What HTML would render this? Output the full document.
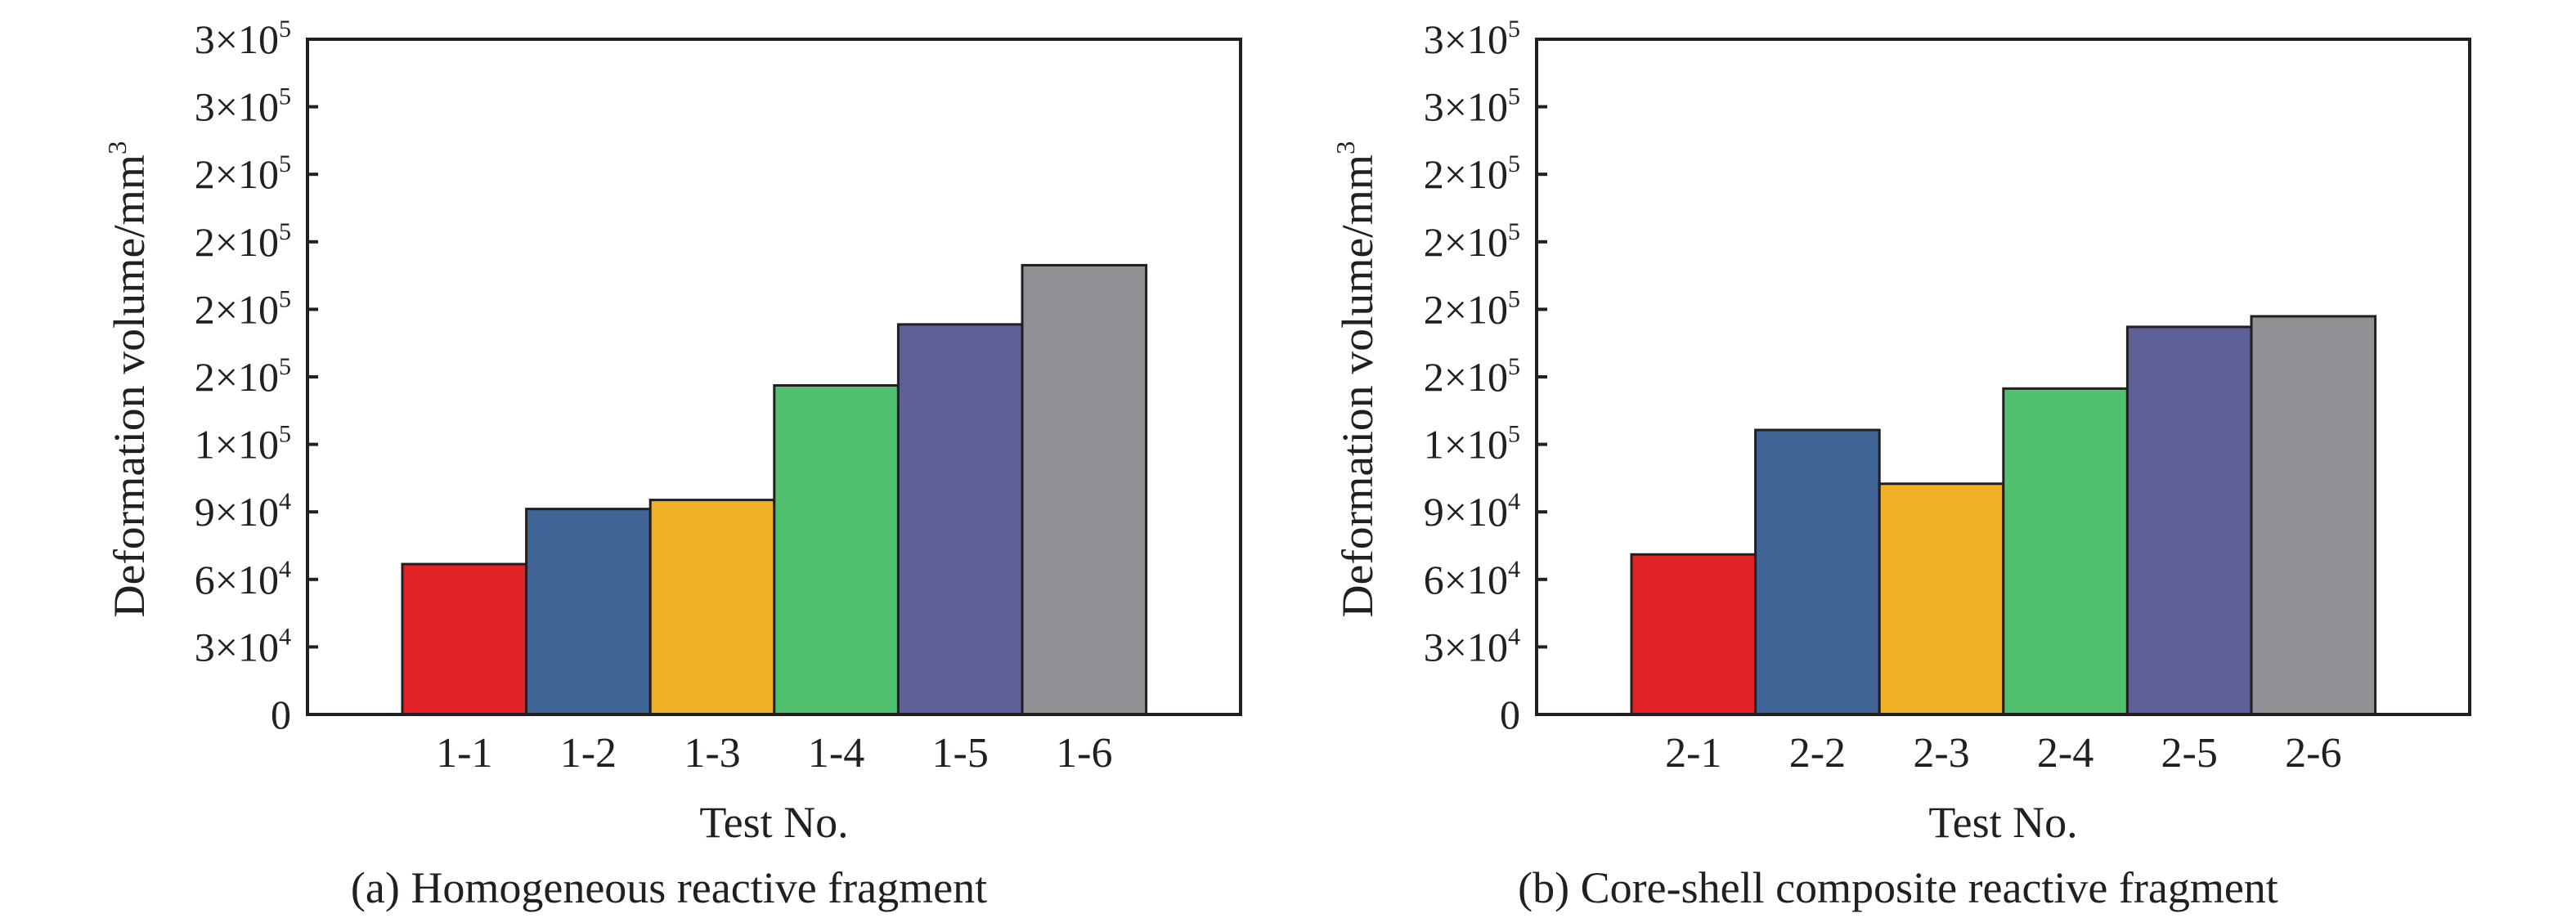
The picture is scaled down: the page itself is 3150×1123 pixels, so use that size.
<!DOCTYPE html>
<html><head><meta charset="utf-8"><style>
html,body{margin:0;padding:0;background:#fff;}
svg{display:block;font-family:"Liberation Serif","Times New Roman",serif;}
</style></head><body>
<svg id="fig" width="3150" height="1123" viewBox="0 0 3150 1123" xmlns="http://www.w3.org/2000/svg"></svg>
<script>
const categoriesA = ["1-1","1-2","1-3","1-4","1-5","1-6"];
const valuesA = [66800, 91300, 95300, 146200, 173300, 199600];
const categoriesB = ["2-1","2-2","2-3","2-4","2-5","2-6"];
const valuesB = [71100, 126400, 102500, 144800, 172200, 176900];
const tickValues = [0,30000,60000,90000,120000,150000,180000,210000,240000,270000,300000];
const tickMantissa = ["0","3","6","9","1","2","2","2","2","3","3"];
const tickExponent = ["","4","4","4","5","5","5","5","5","5","5"];
const barColors = ["#e32227","#406496","#f0b027","#51c16f","#5e6098","#909194"];

const NS="http://www.w3.org/2000/svg";
const svg=document.getElementById('fig');
function mk(tag,attrs,parent){const e=document.createElementNS(NS,tag);for(const k in attrs)e.setAttribute(k,attrs[k]);(parent||svg).appendChild(e);return e;}

function panel(px, pname, cats, vals, caption, titleX, captionX){
  const g=mk('g',{});
  
  
  const L=px, R=px+1141, T=48, B=874, yMax=300000;
  const step=151.6, off=116;
  const y=v=>B-(v/yMax)*(B-T);
  const xc=i=>L+off+(i+0.5)*step;
  cats.forEach((c,i)=>{
    const r=mk('rect',{x:xc(i)-step/2,y:y(vals[i]),width:step,height:B-y(vals[i]),fill:barColors[i],stroke:"#231f20","stroke-width":3},g);
    
    
    const t=mk('text',{x:xc(i),y:938,"font-size":52,"text-anchor":"middle",fill:"#231f20"},g);
    t.textContent=c;
    
    
  });
  const f=mk('rect',{x:L,y:T,width:R-L,height:B-T,fill:"none",stroke:"#231f20","stroke-width":4},g);
  
  
  tickValues.forEach((v,i)=>{
    const tk=mk('line',{x1:L,x2:L+13,y1:y(v),y2:y(v),stroke:"#231f20","stroke-width":4},g);
    
    
    const t=mk('text',{x:L-20,y:y(v)+17,"font-size":50,"text-anchor":"end",fill:"#231f20"},g);
    if(tickExponent[i]){
      t.textContent=tickMantissa[i]+"\u00d710";
      const s=mk('tspan',{"font-size":30,dy:-20},t);
      s.textContent=tickExponent[i];
    } else t.textContent=tickMantissa[i];
    
    
  });
  const yt=mk('text',{x:0,y:0,"font-size":54,"text-anchor":"middle",fill:"#231f20",transform:`translate(${titleX},${464}) rotate(-90)`,textLength:583,lengthAdjust:"spacingAndGlyphs"},g);
  yt.textContent="Deformation volume/mm";
  const sp=mk('tspan',{"font-size":32,dy:-22},yt); sp.textContent="3";
  
  
  const xt=mk('text',{x:(L+R)/2,y:1024,"font-size":54,"text-anchor":"middle",fill:"#231f20"},g);
  xt.textContent="Test No.";
  
  
  const ct=mk('text',{x:captionX,y:1104,"font-size":54,"text-anchor":"middle",fill:"#231f20"},g);
  ct.textContent=caption;
  
  
}
panel(376,'panel-a',categoriesA,valuesA,"(a) Homogeneous reactive fragment",176,818);
panel(1879,'panel-b',categoriesB,valuesB,"(b) Core-shell composite reactive fragment",1678,2321);
</script>
</body></html>
